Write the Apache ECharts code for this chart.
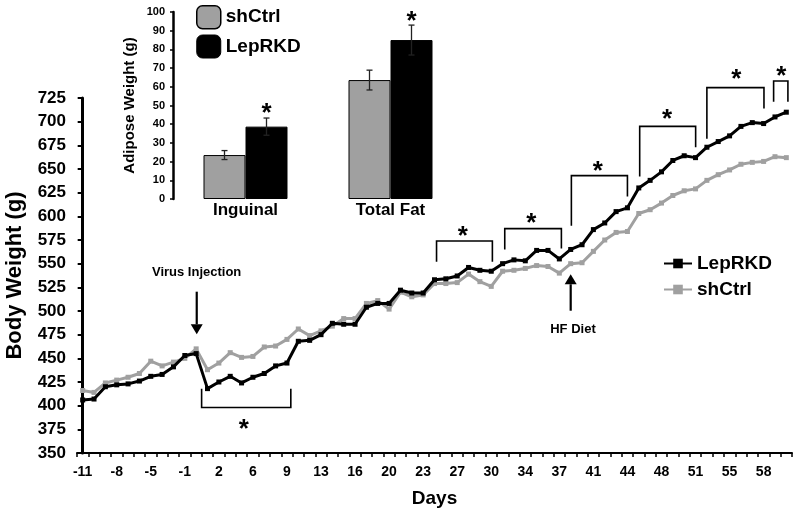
<!DOCTYPE html>
<html><head><meta charset="utf-8">
<script src="https://cdn.jsdelivr.net/npm/echarts@6/dist/echarts.min.js"></script>
<style>html,body{margin:0;padding:0;background:#fff}#c{width:800px;height:521px}</style>
</head><body><div id="c"></div>
<script>
// ---- main chart data ----
const days = [-11,-10,-9,-8,-7,-6,-5,-3,-2,-1,0,1,2,3,5,6,7,8,9,10,12,13,14,15,16,17,19,20,21,22,23,24,26,27,28,29,30,31,33,34,35,36,37,38,40,41,42,43,44,45,47,48,49,50,51,52,54,55,56,57,58,59,60];
const lepRKD = [406,407,420,422,423,426,431,433,441,453,455,418,425,431,424,430,434,442,445,468,469,475,487,486,486,504,508,508,522,519,519,533,534,537,546,543,542,550,554,553,564,564,555,565,570,586,593,605,609,630,638,647,659,664,662,673,679,685,695,699,698,705,710];
const shCtrl = [416,414,424,427,430,434,447,442,446,450,460,438,445,456,451,452,462,463,470,481,474,479,484,492,492,508,511,502,520,515,517,529,529,530,539,531,526,542,543,545,548,547,540,550,551,563,575,583,584,603,607,614,622,627,629,638,644,649,655,657,658,663,662];
const yMin = 350, yMax = 725, yStep = 25;
// significance brackets: [fromIndex, toIndex, barValue, leftEndValue, rightEndValue]
const brackets = [
  [10.48, 18.34, 398, 418, 418],
  [31.18, 36.1, 574, 552, 552],
  [37.19, 42.18, 587, 565, 566],
  [43.06, 48.0, 643, 590, 621],
  [49.08, 54.01, 695, 642, 673],
  [55.0, 60.03, 736, 682, 714],
  [60.88, 62.14, 743, 721, 721]
];
// stars: [index, value]
const stars = [[14.2,382],[33.5,585.6],[39.54,599.6],[45.4,654.2],[51.5,709.5],[57.6,751.7],[61.56,754.6]];
// arrows: [index, tailValue, headValue]
const arrows = [[10.05, 520.4, 475.4],[43.0, 500.3, 538.8]];
// notes: [text, index, value]
const notes = [['Virus Injection', 10.04, 540.9], ['HF Diet', 43.2, 480.7]];

// ---- inset data ----
const fatCategories = ['Inguinal', 'Total Fat'];
const fatShCtrl = [23.5, 63.6];
const fatShCtrlErr = [2.4, 5.3];
const fatLepRKD = [38.7, 85.0];
const fatLepRKDErr = [4.6, 8.0];
const fatStars = [[0, 49.2], [1, 98.4]];

const GRAY = '#a0a0a0';
const FONT = "'Liberation Sans', Arial, sans-serif";
const BAR_W = 42;

const errData = [];
fatCategories.forEach((c, i) => {
  errData.push([i, fatShCtrl[i], fatShCtrlErr[i], -1]);
  errData.push([i, fatLepRKD[i], fatLepRKDErr[i], 1]);
});

function starText(x, y, fs) {
  return {type:'text', x: x, y: y + 0.28*fs, style:{text:'*', fill:'#000', font:'bold '+fs+'px '+FONT, align:'center', verticalAlign:'middle'}};
}

const chart = echarts.init(document.getElementById('c'), null, {renderer:'canvas'});
chart.setOption({
  animation: false,
  backgroundColor: '#fff',
  textStyle: {fontFamily: FONT},
  grid: [
    {left: 77, top: 98, width: 715, height: 355, outerBoundsMode: 'none', containLabel: false},
    {left: 173, top: 12, width: 290, height: 187, outerBoundsMode: 'none', containLabel: false}
  ],
  legend: [
    {data: ['LepRKD', 'shCtrl'], orient: 'vertical', left: 663, top: 254, padding: 0, itemWidth: 28, itemHeight: 12, itemGap: 7,
     selectedMode: false, textStyle: {fontSize: 19, fontWeight: 'bold', color: '#000', fontFamily: FONT}},
    {data: [{name: 'shCtrl', icon: 'roundRect', itemStyle: {color: GRAY, borderColor: '#000', borderWidth: 1.5}},
            {name: 'LepRKD', icon: 'roundRect', itemStyle: {color: '#000', borderColor: '#000', borderWidth: 1}}],
     orient: 'vertical', left: 196, top: 5, padding: 0, itemWidth: 24, itemHeight: 23, itemGap: 5,
     selectedMode: false, textStyle: {fontSize: 19, fontWeight: 'bold', color: '#000', fontFamily: FONT}}
  ],
  xAxis: [
    {type: 'category', gridIndex: 0, data: days.map(String), boundaryGap: true,
     name: 'Days', nameLocation: 'middle', nameGap: 36,
     nameTextStyle: {fontSize: 19, fontWeight: 'bold', color: '#000', fontFamily: FONT},
     axisLine: {lineStyle: {color: '#000', width: 2}},
     axisTick: {show: true, interval: 0, length: 4, inside: false, lineStyle: {color: '#000', width: 1.5}},
     axisLabel: {interval: 2, fontSize: 14, fontWeight: 'bold', color: '#000', margin: 12, fontFamily: FONT},
     splitLine: {show: false}},
    {type: 'value', gridIndex: 0, min: -0.5, max: days.length - 0.5, show: false},
    {type: 'category', gridIndex: 1, data: fatCategories,
     axisLine: {show: false}, axisTick: {show: false},
     axisLabel: {fontSize: 17, fontWeight: 'bold', color: '#000', margin: 3, fontFamily: FONT},
     splitLine: {show: false}}
  ],
  yAxis: [
    {type: 'value', gridIndex: 0, min: yMin, max: yMax, interval: yStep,
     name: 'Body Weight (g)', nameLocation: 'middle', nameGap: 51, nameRotate: 90,
     nameTextStyle: {fontSize: 22, fontWeight: 'bold', color: '#000', fontFamily: FONT},
     axisLine: {show: true, lineStyle: {color: '#000', width: 3}},
     axisTick: {show: true, length: 5, inside: false, lineStyle: {color: '#000', width: 2}},
     axisLabel: {fontSize: 17, fontWeight: 'bold', color: '#000', margin: 11, fontFamily: FONT},
     splitLine: {show: false}},
    {type: 'value', gridIndex: 1, min: 0, max: 100, interval: 10,
     name: 'Adipose Weight (g)', nameLocation: 'middle', nameGap: 36, nameRotate: 90,
     nameTextStyle: {fontSize: 15, fontWeight: 'bold', color: '#000', fontFamily: FONT},
     axisLine: {show: true, lineStyle: {color: '#000', width: 2.5}},
     axisTick: {show: true, length: 3, inside: false, lineStyle: {color: '#000', width: 1.5}},
     axisLabel: {fontSize: 11, fontWeight: 'bold', color: '#000', margin: 8, fontFamily: FONT},
     splitLine: {show: false}}
  ],
  series: [
    {name: 'LepRKD', type: 'line', xAxisIndex: 0, yAxisIndex: 0, data: lepRKD, z: 4,
     color: '#000', lineStyle: {color: '#000', width: 3}, itemStyle: {color: '#000'},
     symbol: 'rect', symbolSize: 5, showAllSymbol: true},
    {name: 'shCtrl', type: 'line', xAxisIndex: 0, yAxisIndex: 0, data: shCtrl, z: 3,
     color: GRAY, lineStyle: {color: GRAY, width: 3}, itemStyle: {color: GRAY},
     symbol: 'rect', symbolSize: 5, showAllSymbol: true},
    {name: 'shCtrl', type: 'bar', xAxisIndex: 2, yAxisIndex: 1, data: fatShCtrl,
     barWidth: BAR_W, barGap: '0%', itemStyle: {color: GRAY, borderColor: '#000', borderWidth: 1}},
    {name: 'LepRKD', type: 'bar', xAxisIndex: 2, yAxisIndex: 1, data: fatLepRKD,
     barWidth: BAR_W, barGap: '0%', itemStyle: {color: '#000', borderColor: '#000', borderWidth: 1}},
    {type: 'custom', name: 'err', xAxisIndex: 2, yAxisIndex: 1, data: errData, z: 5,
     renderItem: function (params, api) {
       const c = api.coord([api.value(0), api.value(1)]);
       const x = c[0] + api.value(3) * BAR_W / 2;
       const top = api.coord([api.value(0), api.value(1) + api.value(2)])[1];
       const bot = api.coord([api.value(0), api.value(1) - api.value(2)])[1];
       const st = {stroke: '#222', lineWidth: 1.3};
       return {type: 'group', children: [
         {type: 'line', shape: {x1: x, y1: top, x2: x, y2: bot}, style: st},
         {type: 'line', shape: {x1: x - 3, y1: top, x2: x + 3, y2: top}, style: st},
         {type: 'line', shape: {x1: x - 3, y1: bot, x2: x + 3, y2: bot}, style: st}
       ]};
     }},
    {type: 'custom', name: 'fatStars', xAxisIndex: 2, yAxisIndex: 1, data: fatStars, z: 5,
     renderItem: function (params, api) {
       const c = api.coord([api.value(0), api.value(1)]);
       return starText(c[0] + BAR_W / 2, c[1], 26);
     }},
    {type: 'custom', name: 'brackets', xAxisIndex: 1, yAxisIndex: 0, data: brackets, z: 5, clip: false,
     renderItem: function (params, api) {
       const p1 = api.coord([api.value(0), api.value(2)]);
       const p2 = api.coord([api.value(1), api.value(2)]);
       const yl = api.coord([api.value(0), api.value(3)])[1];
       const yr = api.coord([api.value(1), api.value(4)])[1];
       return {type: 'polyline', shape: {points: [[p1[0], yl], [p1[0], p1[1]], [p2[0], p2[1]], [p2[0], yr]]},
               style: {stroke: '#000', lineWidth: 1.6, fill: null}};
     }},
    {type: 'custom', name: 'stars', xAxisIndex: 1, yAxisIndex: 0, data: stars, z: 5, clip: false,
     renderItem: function (params, api) {
       const c = api.coord([api.value(0), api.value(1)]);
       return starText(c[0], c[1], 26);
     }},
    {type: 'custom', name: 'arrows', xAxisIndex: 1, yAxisIndex: 0, data: arrows, z: 5, clip: false,
     renderItem: function (params, api) {
       const t = api.coord([api.value(0), api.value(1)]);
       const h = api.coord([api.value(0), api.value(2)]);
       const dir = h[1] > t[1] ? 1 : -1;
       const base = h[1] - dir * 10;
       return {type: 'group', children: [
         {type: 'line', shape: {x1: t[0], y1: t[1], x2: t[0], y2: base}, style: {stroke: '#000', lineWidth: 2.2}},
         {type: 'polygon', shape: {points: [[h[0], h[1]], [h[0] - 6, base], [h[0] + 6, base]]}, style: {fill: '#000'}}
       ]};
     }},
    {type: 'custom', name: 'notes', xAxisIndex: 1, yAxisIndex: 0, data: notes.map(n => [n[1], n[2]]), z: 5, clip: false,
     renderItem: function (params, api) {
       const c = api.coord([api.value(0), api.value(1)]);
       return {type: 'text', x: c[0], y: c[1], style: {text: notes[params.dataIndex][0], fill: '#000',
               font: 'bold 13px ' + FONT, align: 'center', verticalAlign: 'middle'}};
     }}
  ]
});
</script>
</body></html>
